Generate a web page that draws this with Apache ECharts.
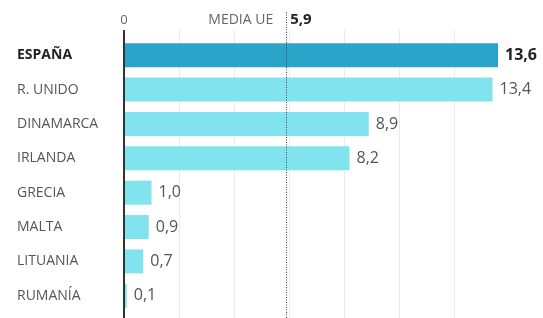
<!DOCTYPE html>
<html>
<head>
<meta charset="utf-8">
<script src="https://cdn.jsdelivr.net/npm/echarts@6/dist/echarts.min.js"></script>
<style>
  html, body { margin: 0; padding: 0; background: #fff; }
  #chart { width: 543px; height: 318px; }
</style>
</head>
<body>
<div id="chart"></div>
<script>
const countries = ['ESPAÑA', 'R. UNIDO', 'DINAMARCA', 'IRLANDA', 'GRECIA', 'MALTA', 'LITUANIA', 'RUMANÍA']
const values = [13.6, 13.4, 8.9, 8.2, 1.0, 0.9, 0.7, 0.1]
const highlight = 'ESPAÑA'
const euMean = 5.9
const gridTicks = [2, 4, 6, 8, 10, 12]

const fmt = v => v.toFixed(1).replace('.', ',')
const font = '"Open Sans", sans-serif'

const chart = echarts.init(document.getElementById('chart'), null, { renderer: 'canvas' })

const barData = countries.map((c, i) => {
  const hot = c === highlight
  return {
    value: values[i],
    itemStyle: { color: hot ? '#2ba4c9' : '#80e3ee' },
    label: hot ? { fontWeight: 'bold', color: '#222' } : {}
  }
})

chart.setOption({
  animation: false,
  grid: { left: 124, right: 34, top: 38, bottom: 5 },
  xAxis: {
    type: 'value', min: 0, max: 14,
    axisLine: { show: false }, axisTick: { show: false },
    axisLabel: { show: false }, splitLine: { show: false }
  },
  yAxis: {
    type: 'category', inverse: true, data: countries,
    axisLine: { show: false }, axisTick: { show: false },
    axisLabel: {
      margin: 107, align: 'left',
      formatter: v => v === highlight ? '{b|' + v + '}' : '{n|' + v + '}',
      rich: {
        b: { fontFamily: font, fontSize: 14, fontWeight: 'bold', color: '#222' },
        n: { fontFamily: font, fontSize: 14, color: '#555' }
      }
    }
  },
  series: [{
    type: 'bar', data: barData, barWidth: 24, z: 3,
    label: {
      show: true, position: 'right', distance: 7,
      fontFamily: font, fontSize: 16, color: '#555',
      formatter: p => fmt(p.value)
    }
  }]
})

// gridlines, axis line and EU mean line span beyond the plotting area
const px = v => chart.convertToPixel({ xAxisIndex: 0 }, v)
const x0 = px(0)
const xm = px(euMean)
const graphics = gridTicks.map(t => ({
  type: 'line', z: 0, silent: true,
  shape: { x1: Math.round(px(t)) + 0.5, y1: 30, x2: Math.round(px(t)) + 0.5, y2: 318 },
  style: { stroke: '#ebebeb', lineWidth: 1 }
}))
graphics.push({
  type: 'line', z: 10, silent: true,
  shape: { x1: x0, y1: 30, x2: x0, y2: 318 },
  style: { stroke: '#333', lineWidth: 2 }
})
graphics.push({
  type: 'line', z: 10, silent: true,
  shape: { x1: Math.round(xm) + 0.5, y1: 12, x2: Math.round(xm) + 0.5, y2: 318 },
  style: { stroke: '#444', lineWidth: 1, lineDash: [1, 1.5] }
})
graphics.push({
  type: 'text', z: 10, x: x0, y: 20,
  style: { text: '0', font: '13px ' + font, fill: '#666', align: 'center', verticalAlign: 'middle' }
})
graphics.push({
  type: 'text', z: 10, x: xm - 13, y: 20,
  style: { text: 'MEDIA UE', font: '14px ' + font, fill: '#666', align: 'right', verticalAlign: 'middle' }
})
graphics.push({
  type: 'text', z: 10, x: xm + 4, y: 20,
  style: { text: fmt(euMean), font: 'bold 15px ' + font, fill: '#222', align: 'left', verticalAlign: 'middle' }
})
chart.setOption({ graphic: graphics })
</script>
</body>
</html>
